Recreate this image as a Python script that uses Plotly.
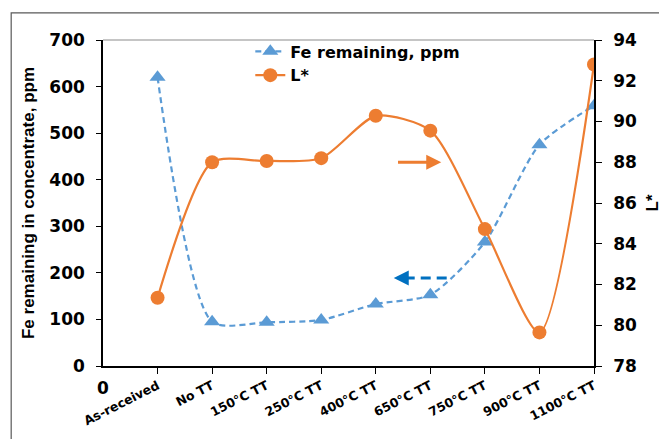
import plotly.graph_objects as go

categories = ["As-received", "No TT", "150°C TT", "250°C TT", "400°C TT",
              "650°C TT", "750°C TT", "900°C TT", "1100°C TT"]
fe_ppm = [620, 95, 94, 99, 133, 153, 266, 475, 559]
l_star = [81.35, 88.0, 88.06, 88.2, 90.28, 89.55, 84.72, 79.65, 92.8]
fe_ticks = [0, 100, 200, 300, 400, 500, 600, 700]
l_ticks = [78, 80, 82, 84, 86, 88, 90, 92, 94]

xpos = list(range(1, len(categories) + 1))
FONT = "Liberation Sans, Arial, sans-serif"
WIDE = "DejaVu Sans, Arial, sans-serif"
BLUE = "#5B9BD5"
ORANGE = "#ED7D31"

fig = go.Figure()
fig.add_trace(go.Scatter(
    x=xpos, y=fe_ppm, name="Fe remaining, ppm", mode="lines+markers",
    line=dict(color=BLUE, width=2.2, dash="6px,4px", shape="spline", smoothing=0.7),
    marker=dict(symbol="triangle-up", size=14, color=BLUE),
    yaxis="y"))
fig.add_trace(go.Scatter(
    x=xpos, y=l_star, name="L*", mode="lines+markers",
    line=dict(color=ORANGE, width=2.2, shape="spline", smoothing=0.7),
    marker=dict(symbol="circle", size=14, color=ORANGE),
    yaxis="y2"))

fig.update_layout(
    width=659, height=431,
    margin=dict(l=95, r=73, t=32, b=73, autoexpand=False),
    paper_bgcolor="white", plot_bgcolor="white",
    font=dict(family=FONT, color="black"),
    showlegend=True,
    legend=dict(x=0.30, y=1.017, xanchor="left", yanchor="top",
                bgcolor="rgba(0,0,0,0)", tracegroupgap=0,
                font=dict(size=16, family=WIDE, weight="bold"),
                itemwidth=30),
    xaxis=dict(range=[0, 9], tickvals=xpos, ticktext=categories,
               tickangle=-27, showgrid=False, zeroline=False, automargin=False,
               showline=True, linecolor="black", linewidth=1.5,
               ticks="outside", ticklen=6, tickcolor="black",
               tickfont=dict(size=12.5, family=WIDE, weight="bold")),
    yaxis=dict(range=[0, 700], tickvals=fe_ticks, showgrid=False, zeroline=False,
               automargin=False,
               showline=True, linecolor="black", linewidth=1.5,
               ticks="outside", ticklen=5, tickcolor="black",
               ticklabelstandoff=8,
               tickfont=dict(size=17, family=WIDE, weight="bold"),
               title=dict(text="Fe remaining in concentrate, ppm",
                          font=dict(size=17, family=FONT, weight="bold"),
                          standoff=10)),
    yaxis2=dict(range=[78, 94], tickvals=l_ticks, overlaying="y", side="right",
                showgrid=False, zeroline=False, automargin=False,
                showline=True, linecolor="black", linewidth=1.5,
                ticks="outside", ticklen=6, tickcolor="black",
                ticklabelstandoff=8,
                tickfont=dict(size=17, family=WIDE, weight="bold"),
                title=dict(text="L*", font=dict(size=17, family=FONT, weight="bold"),
                           standoff=10)),
)

# outer chart frame
fig.add_shape(type="rect", xref="paper", yref="paper",
              x0=-0.187, x1=1.3, y0=-0.4, y1=1.083,
              line=dict(color="#595959", width=1.2))
# top border of plot area
fig.add_shape(type="line", xref="paper", yref="paper",
              x0=0, x1=1, y0=1, y1=1, line=dict(color="#8c8c8c", width=1.2))

# "0" label at origin
fig.add_annotation(x=0, y=0, xref="x", yref="paper", text="<b>0</b>",
                   showarrow=False, yanchor="middle", yshift=-22,
                   font=dict(size=17, family=WIDE))

# orange arrow pointing to right axis
fig.add_annotation(x=6.2, y=88, xref="x", yref="y2", ax=5.38, ay=88,
                   axref="x", ayref="y2", text="", showarrow=True,
                   arrowhead=2, arrowsize=1, arrowwidth=3, arrowcolor=ORANGE)
# blue dashed arrow pointing to left axis
fig.add_shape(type="line", xref="x", yref="y", x0=6.3, x1=5.5, y0=189, y1=189,
              line=dict(color="#0070C0", width=3, dash="10px,6px"))
fig.add_annotation(x=5.33, y=189, xref="x", yref="y", ax=5.55, ay=189,
                   axref="x", ayref="y", text="", showarrow=True,
                   arrowhead=2, arrowsize=1, arrowwidth=3, arrowcolor="#0070C0")

fig.write_html("out.html")
